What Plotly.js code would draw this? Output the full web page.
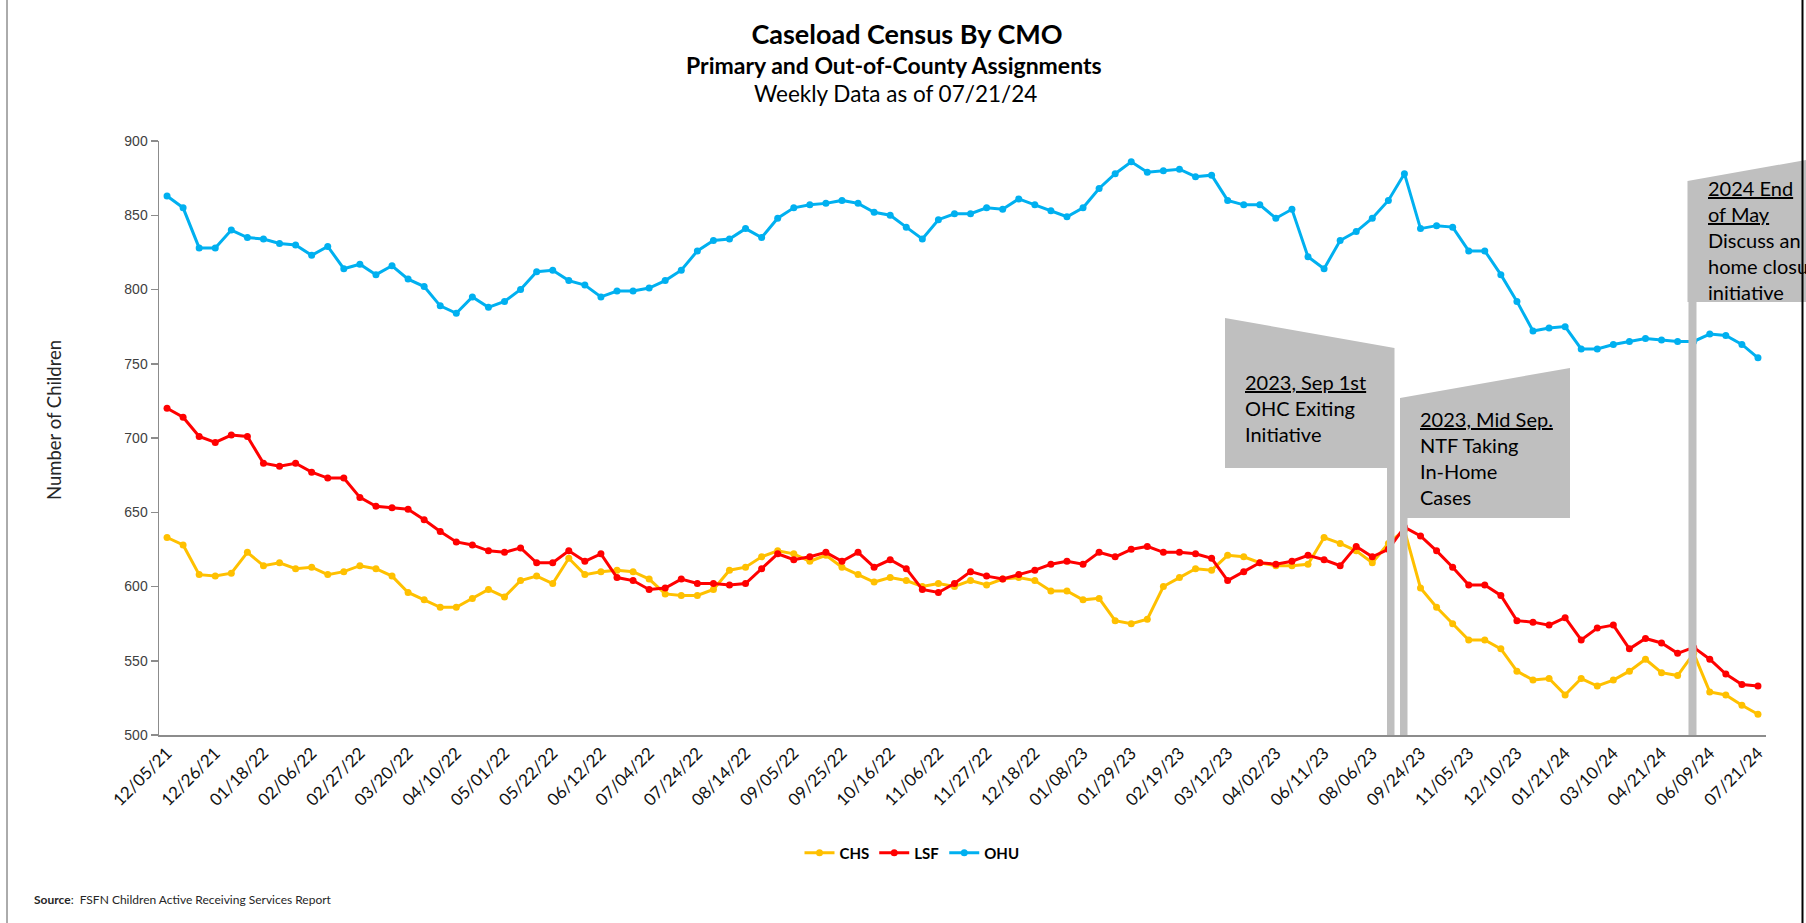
<!DOCTYPE html>
<html>
<head>
<meta charset="utf-8">
<script src="https://cdn.plot.ly/plotly-3.0.1.min.js"></script>
<style>
html,body{margin:0;padding:0;overflow:hidden;background:#fff;}
#chart{width:1806px;height:923px;}
</style>
</head>
<body>
<div id="chart"></div>
<script>
// ---- DATA ----
const categories = [
 "12/05/21","12/12/21","12/19/21","12/26/21","01/02/22","01/09/22","01/18/22","01/23/22","01/30/22","02/06/22",
 "02/13/22","02/20/22","02/27/22","03/06/22","03/13/22","03/20/22","03/27/22","04/03/22","04/10/22","04/17/22",
 "04/24/22","05/01/22","05/08/22","05/15/22","05/22/22","05/29/22","06/05/22","06/12/22","06/19/22","06/26/22",
 "07/04/22","07/10/22","07/17/22","07/24/22","07/31/22","08/07/22","08/14/22","08/21/22","08/28/22","09/05/22",
 "09/11/22","09/18/22","09/25/22","10/02/22","10/09/22","10/16/22","10/23/22","10/30/22","11/06/22","11/13/22",
 "11/20/22","11/27/22","12/04/22","12/11/22","12/18/22","12/25/22","01/01/23","01/08/23","01/15/23","01/22/23",
 "01/29/23","02/05/23","02/12/23","02/19/23","02/26/23","03/05/23","03/12/23","03/19/23","03/26/23","04/02/23",
 "04/23/23","05/21/23","06/11/23","06/25/23","07/16/23","08/06/23","08/20/23","09/03/23","09/24/23","10/08/23",
 "10/22/23","11/05/23","11/19/23","11/26/23","12/10/23","12/24/23","01/07/24","01/21/24","02/04/24","02/18/24",
 "03/10/24","03/24/24","04/07/24","04/21/24","05/05/24","05/26/24","06/09/24","06/23/24","07/07/24","07/21/24"
];
const tickLabels = [
 "12/05/21","12/26/21","01/18/22","02/06/22","02/27/22","03/20/22","04/10/22","05/01/22","05/22/22","06/12/22",
 "07/04/22","07/24/22","08/14/22","09/05/22","09/25/22","10/16/22","11/06/22","11/27/22","12/18/22","01/08/23",
 "01/29/23","02/19/23","03/12/23","04/02/23","06/11/23","08/06/23","09/24/23","11/05/23","12/10/23","01/21/24",
 "03/10/24","04/21/24","06/09/24","07/21/24"
];
const chs = [
 633,628,608,607,609,623,614,616,612,613,608,610,614,612,607,596,591,586,
 586,592,598,593,604,607,602,619,608,610,611,610,605,595,594,594,598,611,613,620,624,
 622,617,621,613,608,603,606,604,600,602,600,604,601,605,606,604,597,597,591,592,
 577,575,578,600,606,612,611,621,620,616,614,614,615,633,629,624,616,629,638,599,586,
 575,564,564,558,543,537,538,527,538,533,537,543,551,542,540,555,529,527,520,514
];
const lsf = [
 720,714,701,697,702,701,683,681,683,677,673,673,660,654,653,652,645,637,
 630,628,624,623,626,616,616,624,617,622,606,604,598,599,605,602,602,601,602,612,622,
 618,620,623,617,623,613,618,612,598,596,602,610,607,605,608,611,615,617,615,623,
 620,625,627,623,623,622,619,604,610,616,615,617,621,618,614,627,620,625,640,634,624,
 613,601,601,594,577,576,574,579,564,572,574,558,565,562,555,559,551,541,534,533
];
const ohu = [
 863,855,828,828,840,835,834,831,830,823,829,814,817,810,816,807,802,789,784,795,
 788,792,800,812,813,806,803,795,799,799,801,806,813,
 826,833,834,841,835,848,855,857,858,860,858,852,850,842,834,847,851,851,855,854,
 861,857,853,849,855,868,878,886,879,880,881,876,877,860,
 857,857,848,854,822,814,833,839,848,860,878,841,843,842,826,826,810,792,772,774,
 775,760,760,763,765,767,766,765,765,770,769,763,754
];
const seriesNames = ["CHS","LSF","OHU"];
const seriesColors = ["#FFC000","#FF0000","#00B0F0"];
const yTicks = [500,550,600,650,700,750,800,850,900];

// ---- GEOMETRY (pixels -> paper) ----
const W = 1806, H = 923, ML = 159, MR = 40, MT = 141, MB = 188;
const PW = W - ML - MR, PH = H - MT - MB;
const X = px => (px - ML) / PW;
const Y = py => (H - MB - py) / PH;
const path = pts => 'M' + pts.map(p => X(p[0]).toFixed(5) + ',' + Y(p[1]).toFixed(5)).join(' L') + ' Z';

const allSeries = [chs, lsf, ohu];
const traces = allSeries.map((vals, k) => ({
  type: 'scatter',
  mode: 'lines+markers',
  name: seriesNames[k],
  x: categories,
  y: vals,
  line: {color: seriesColors[k], width: 3},
  marker: {color: seriesColors[k], size: 7},
  hoverinfo: 'skip'
}));

const gray = '#BFBFBF';
const axisGray = '#8C8C8C';
const shapes = [
  {type:'path', xref:'paper', yref:'paper', layer:'above', fillcolor:gray, line:{width:0},
   path: path([[1225,318],[1394.5,348],[1394.5,735],[1387,735],[1387,468],[1225,468]])},
  {type:'path', xref:'paper', yref:'paper', layer:'above', fillcolor:gray, line:{width:0},
   path: path([[1400,398],[1570,368],[1570,518],[1407.5,518],[1407.5,735],[1400,735]])},
  {type:'path', xref:'paper', yref:'paper', layer:'above', fillcolor:gray, line:{width:0},
   path: path([[1687.5,181],[1806,160],[1806,302],[1696.5,302],[1696.5,735],[1688.5,735],[1688.5,302],[1687.5,302]])},
  {type:'line', xref:'paper', yref:'paper', layer:'above', x0:X(1802.5), x1:X(1802.5), y0:Y(0), y1:Y(923), line:{color:'#000', width:2}},
  {type:'line', xref:'paper', yref:'paper', layer:'above', x0:X(7), x1:X(7), y0:Y(0), y1:Y(923), line:{color:'#595959', width:1}}
];

const calloutFont = {family:'Lato', size:20, color:'#000'};
const annotations = [
  {xref:'paper', yref:'paper', x:X(894), y:Y(65.5), xanchor:'center', yanchor:'middle', showarrow:false,
   text:'<b>Primary and Out-of-County Assignments</b>', font:{family:'Lato', size:23, color:'#000'}},
  {xref:'paper', yref:'paper', x:X(895), y:Y(93.5), xanchor:'center', yanchor:'middle', showarrow:false,
   text:'Weekly Data as of 07/21/24', font:{family:'Lato', size:22.5, color:'#000'}},
  {xref:'paper', yref:'paper', x:X(54), y:Y(420), xanchor:'center', yanchor:'middle', textangle:-90, showarrow:false,
   text:'Number of Children', font:{family:'Lato', size:18.5, color:'#262626'}},
  {xref:'paper', yref:'paper', x:X(1243), y:Y(408), xanchor:'left', yanchor:'middle', align:'left', showarrow:false,
   text:'<u>2023, Sep 1st</u><br>OHC Exiting<br>Initiative', font:calloutFont},
  {xref:'paper', yref:'paper', x:X(1418), y:Y(458), xanchor:'left', yanchor:'middle', align:'left', showarrow:false,
   text:'<u>2023, Mid Sep.</u><br>NTF Taking<br>In-Home<br>Cases', font:calloutFont},
  {xref:'paper', yref:'paper', x:X(1706), y:Y(240), xanchor:'left', yanchor:'middle', align:'left', showarrow:false,
   text:'<u>2024 End</u><br><u>of May</u><br>Discuss an In-<br>home closure<br>initiative', font:calloutFont},
  {xref:'paper', yref:'paper', x:X(32), y:Y(900), xanchor:'left', yanchor:'middle', align:'left', showarrow:false,
   text:'<b>Source</b>:  FSFN Children Active Receiving Services Report', font:{family:'Lato', size:12, color:'#262626'}}
];

const layout = {
  width: W, height: H,
  margin: {l: ML, r: MR, t: MT, b: MB, pad: 0},
  paper_bgcolor: '#fff', plot_bgcolor: '#fff',
  showlegend: true,
  title: {
    text: 'Caseload Census By CMO',
    xref: 'container', yref: 'container', x: 907 / W, xanchor: 'center', y: 1 - 34.5 / H, yanchor: 'middle',
    font: {family: 'Lato', size: 27, color: '#000', weight: 'bold'}
  },
  xaxis: {
    type: 'category', categoryorder: 'array', categoryarray: categories,
    range: [-0.5, categories.length - 0.5],
    tickmode: 'array', tickvals: tickLabels, ticktext: tickLabels,
    tickangle: -45, ticks: '', showline: true, linecolor: axisGray, linewidth: 1.5,
    showgrid: false, zeroline: false, fixedrange: true,
    tickfont: {family: 'Lato', size: 17, color: '#111'}
  },
  xaxis2: {
    overlaying: 'x', anchor: 'y', side: 'bottom', type: 'linear',
    range: [-0.5, categories.length - 0.5], tickmode: 'linear', tick0: -0.5, dtick: 2,
    ticks: 'outside', ticklen: 7, tickwidth: 1.5, tickcolor: axisGray,
    showticklabels: false, showgrid: false, zeroline: false, showline: false, fixedrange: true
  },
  yaxis: {
    range: [500, 900], tickmode: 'array', tickvals: yTicks,
    ticks: 'outside', ticklen: 7, tickwidth: 1.5, tickcolor: axisGray,
    showline: true, linecolor: axisGray, linewidth: 1.5,
    showgrid: false, zeroline: false, fixedrange: true,
    tickfont: {family: 'Liberation Sans', size: 14, color: '#404040'}
  },
  legend: {
    orientation: 'h', x: X(912), xanchor: 'center', y: Y(853), yanchor: 'middle',
    font: {family: 'Lato', size: 15, color: '#000', weight: 'bold'},
    itemwidth: 30, traceorder: 'normal', bgcolor: 'rgba(0,0,0,0)'
  },
  shapes: shapes,
  annotations: annotations
};

Plotly.newPlot('chart', traces, layout, {displayModeBar: false, staticPlot: true});
</script>
</body>
</html>
